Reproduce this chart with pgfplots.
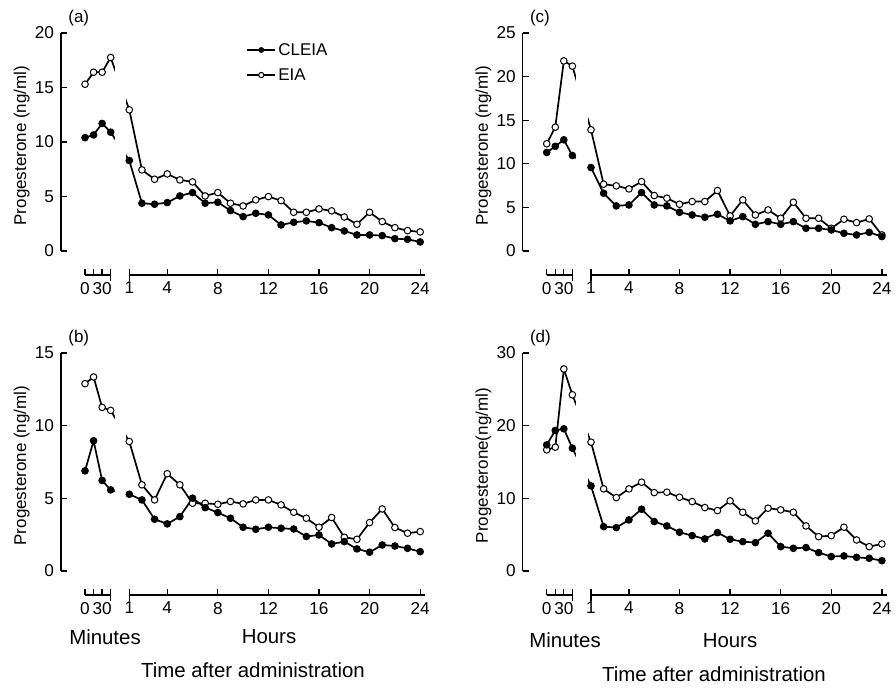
\documentclass[border=0pt]{standalone}
\usepackage{fontspec}
\setmainfont{Liberation Sans}
\usepackage{pgfplots}
\usepackage{pgfplotstable}
\pgfplotsset{compat=1.18}

\pgfplotstableread{
t cleia eia
0 10.4 15.3
0.25 10.65 16.4
0.5 11.7 16.4
0.75 10.9 17.75
1 8.3 12.95
2 4.38 7.44
3 4.29 6.58
4 4.44 7.07
5 5.05 6.52
6 5.36 6.34
7 4.38 5.05
8 4.47 5.36
9 3.71 4.38
10 3.15 4.13
11 3.46 4.69
12 3.31 4.99
13 2.39 4.62
14 2.63 3.55
15 2.76 3.55
16 2.60 3.86
17 2.14 3.68
18 1.84 3.12
19 1.47 2.45
20 1.47 3.55
21 1.41 2.70
22 1.13 2.14
23 1.07 1.87
24 0.83 1.75
}\dataA

\pgfplotstableread{
t cleia eia
0 6.89 12.89
0.25 8.96 13.35
0.5 6.23 11.26
0.75 5.58 11.05
1 5.28 8.91
2 4.89 5.93
3 3.56 4.89
4 3.24 6.69
5 3.74 5.93
6 5.01 4.66
7 4.36 4.66
8 4.02 4.59
9 3.63 4.78
10 3.01 4.62
11 2.87 4.89
12 3.01 4.89
13 2.94 4.55
14 2.89 4.04
15 2.37 3.63
16 2.48 3.01
17 1.86 3.68
18 2.02 2.32
19 1.52 2.18
20 1.29 3.33
21 1.79 4.27
22 1.72 2.99
23 1.56 2.60
24 1.33 2.71
}\dataB

\pgfplotstableread{
t cleia eia
0 11.3 12.3
0.25 12.0 14.2
0.5 12.75 21.8
0.75 10.95 21.2
1 9.57 13.9
2 6.62 7.66
3 5.17 7.47
4 5.28 7.12
5 6.7 7.96
6 5.28 6.36
7 5.17 6.05
8 4.44 5.36
9 4.13 5.67
10 3.87 5.67
11 4.21 6.93
12 3.45 4.02
13 3.94 5.86
14 3.06 4.13
15 3.37 4.71
16 3.06 3.75
17 3.37 5.59
18 2.6 3.75
19 2.6 3.75
20 2.41 2.6
21 2.03 3.64
22 1.84 3.25
23 2.14 3.68
24 1.65 1.84
}\dataC

\pgfplotstableread{
t cleia eia
0 17.36 16.67
0.25 19.34 17.04
0.5 19.57 27.8
0.75 16.9 24.25
1 11.71 17.73
2 6.11 11.3
3 5.97 10.1
4 7.03 11.3
5 8.5 12.22
6 6.8 10.79
7 6.2 10.84
8 5.33 10.15
9 4.87 9.55
10 4.41 8.73
11 5.28 8.31
12 4.36 9.65
13 4.04 8.08
14 3.9 6.89
15 5.19 8.64
16 3.35 8.41
17 3.12 8.08
18 3.22 6.2
19 2.53 4.73
20 1.98 4.87
21 2.07 6.02
22 1.88 4.27
23 1.75 3.35
24 1.42 3.72
}\dataD

\newcommand\tickfont{\fontsize{8.6}{10}\selectfont}
\newcommand\labfont{\fontsize{8.5}{10}\selectfont}
\newcommand\bigfont{\fontsize{10.2}{12}\selectfont}

\pgfplotsset{
  mainax/.style={
    scale only axis, width=182.75pt, height=109pt,
    xmin=-4.40, xmax=24.5, ymin=0,
    axis y line=left, axis x line=none,
    axis line style={-, line width=0.65pt},
    every tick/.style={black, line width=0.65pt},
    tick align=inside, major tick length=3pt,
    xtick=\empty, clip=false,
    tick label style={font=\tickfont},
    /pgf/number format/assume math mode=true,
    every axis y label/.style={at={(axis description cs:-0.1073,0.4835)}, rotate=90, anchor=center, font=\labfont},
  },
  hrax/.style={
    scale only axis, width=147.97pt, height=5pt,
    xmin=1, xmax=24.4, ymin=0, ymax=1,
    axis x line*=bottom, axis y line=none,
    axis line style={-, line width=0.65pt},
    every tick/.style={black, line width=0.65pt},
    tick align=inside, major tick length=3pt,
    xtick={1,4,8,12,16,20,24},
    extra x ticks={1}, extra x tick labels={},
    extra x tick style={tick align=center, major tick length=6pt},
    tick label style={font=\tickfont},
    /pgf/number format/assume math mode=true,
  },
  minax/.style={
    scale only axis, width=12.818pt, height=5pt,
    xmin=0, xmax=45, ymin=0, ymax=1,
    axis x line*=bottom, axis y line=none,
    axis line style={-, line width=0.65pt},
    every tick/.style={black, line width=0.65pt},
    tick align=inside, major tick length=3pt,
    xtick={0,15,30}, xticklabels={0,,30},
    extra x ticks={45}, extra x tick labels={},
    extra x tick style={tick align=center, major tick length=6pt},
    tick label style={font=\tickfont},
    /pgf/number format/assume math mode=true,
  },
  ln/.style={black, line width=0.85pt, no markers, forget plot},
  mkeia/.style={only marks, mark=*, mark size=1.65pt, mark options={draw=black, fill=white, line width=0.5pt}, forget plot},
  mkcl/.style={only marks, mark=*, mark size=1.65pt, mark options={draw=black, fill=black, line width=0.5pt}, forget plot},
}

\newcommand\xpos{ifthenelse(\thisrow{t}<1, -2.5+2.7027*\thisrow{t}, \thisrow{t})}

\newcommand\drawdata[2]{%
  \addplot[ln] table[x expr={\xpos}, y=eia] {#1};
  \addplot[ln] table[x expr={\xpos}, y=cleia] {#1};
  \fill[white] (axis cs:-0.16,0) rectangle (axis cs:0.75,#2);
  \addplot[mkeia] table[x expr={\xpos}, y=eia] {#1};
  \addplot[mkcl] table[x expr={\xpos}, y=cleia] {#1};
}

\begin{document}
\begin{tikzpicture}
\path[use as bounding box] (0,0) rectangle (447.5pt,344.5pt);

% ---------- (a)
\begin{axis}[mainax, at={(30.5pt,219pt)}, anchor=south west,
  ymax=20, ytick={0,5,10,15,20},
  ylabel={Progesterone (ng/ml)},
  legend cell align=left,
  legend image code/.code={%
    \draw[#1, mark=none] (0pt,0pt) -- (14pt,0pt);
    \draw[#1] plot coordinates {(7pt,0pt)};},
  legend style={at={(axis cs:10.22,17.29)}, anchor=west, draw=none, fill=none,
    inner sep=0pt, row sep=2.5pt, font=\labfont,
    nodes={inner sep=1pt, text height=6.5pt, text depth=1.5pt},
    /tikz/every even column/.append style={column sep=4.5pt}},
]
\drawdata{\dataA}{20}
\addlegendimage{black, line width=1pt, mark=*, mark size=1.2pt, mark options={fill=black, line width=0.5pt}}
\addlegendentry{CLEIA}
\addlegendimage{black, line width=1pt, mark=*, mark size=1.3pt, mark options={fill=white, line width=0.5pt}}
\addlegendentry{EIA}
\node[anchor=west, inner sep=0pt, font=\labfont] at (axis description cs:0.019,1.07) {(a)};
\end{axis}
\begin{axis}[hrax, at={(64.647pt,207pt)}, anchor=south west]
\end{axis}
\begin{axis}[minax, at={(42.515pt,207pt)}, anchor=south west]
\end{axis}

% ---------- (c)
\begin{axis}[mainax, at={(261.35pt,219pt)}, anchor=south west,
  ymax=25, ytick={0,5,10,15,20,25},
  ylabel={Progesterone (ng/ml)},
]
\drawdata{\dataC}{25}
\node[anchor=west, inner sep=0pt, font=\labfont] at (axis description cs:0.019,1.07) {(c)};
\end{axis}
\begin{axis}[hrax, at={(295.497pt,207pt)}, anchor=south west]
\end{axis}
\begin{axis}[minax, at={(273.365pt,207pt)}, anchor=south west]
\end{axis}

% ---------- (b)
\begin{axis}[mainax, at={(30.5pt,59pt)}, anchor=south west,
  ymax=15, ytick={0,5,10,15},
  ylabel={Progesterone (ng/ml)},
]
\drawdata{\dataB}{15}
\node[anchor=west, inner sep=0pt, font=\labfont] at (axis description cs:0.019,1.07) {(b)};
\end{axis}
\begin{axis}[hrax, at={(64.647pt,47pt)}, anchor=south west]
\end{axis}
\begin{axis}[minax, at={(42.515pt,47pt)}, anchor=south west]
\end{axis}

% ---------- (d)
\begin{axis}[mainax, at={(261.35pt,59pt)}, anchor=south west,
  ymax=30, ytick={0,10,20,30},
  ylabel={Progesterone(ng/ml)},
]
\drawdata{\dataD}{30}
\node[anchor=west, inner sep=0pt, font=\labfont] at (axis description cs:0.019,1.07) {(d)};
\end{axis}
\begin{axis}[hrax, at={(295.497pt,47pt)}, anchor=south west]
\end{axis}
\begin{axis}[minax, at={(273.365pt,47pt)}, anchor=south west]
\end{axis}

% ---------- bottom labels
\node[font=\bigfont] at (52.5pt,26pt) {Minutes};
\node[font=\bigfont] at (134.5pt,26pt) {Hours};
\node[font=\bigfont] at (126.5pt,9.15pt) {Time after administration};
\node[font=\bigfont] at (282.5pt,24.15pt) {Minutes};
\node[font=\bigfont] at (365pt,24.15pt) {Hours};
\node[font=\bigfont] at (357pt,7.5pt) {Time after administration};
\end{tikzpicture}
\end{document}
